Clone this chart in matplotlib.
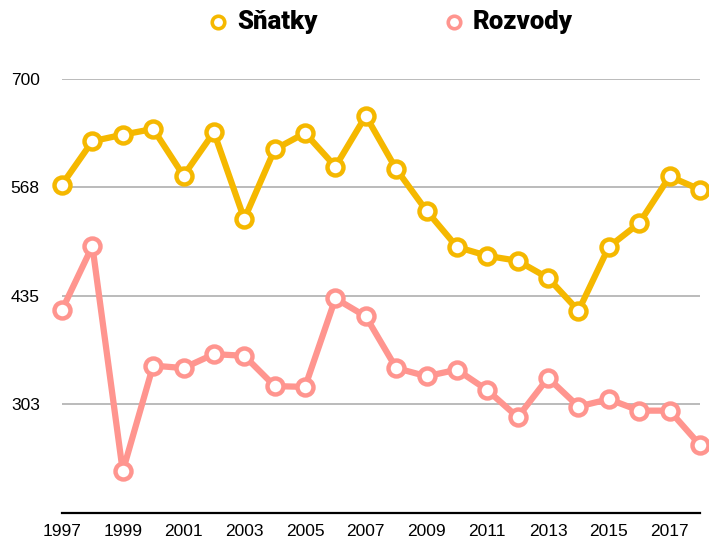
import matplotlib.pyplot as plt
from matplotlib.lines import Line2D

# --- Data ---
years = list(range(1997, 2019))
snatky = [571, 624, 632, 639, 582, 635, 529, 614, 634, 593, 655,
          590, 539, 495, 484, 478, 457, 417, 495, 524, 581, 565]
rozvody = [418, 496, 221, 350, 347, 364, 362, 325, 324, 432, 410,
           347, 337, 345, 320, 287, 335, 300, 309, 295, 295, 253]
series_names = ['Sňatky', 'Rozvody']
colors = ['#F5B800', '#FF958F']
y_ticks = [302.5, 435, 567.5, 700]
y_labels = ['303', '435', '568', '700']
x_ticks = list(range(1997, 2018, 2))

W, H = 709, 542
fig = plt.figure(figsize=(W / 100, H / 100), dpi=100)
ax = fig.add_axes([62 / W, 1 - 513 / H, (700 - 62) / W, (513 - 79) / H])

for vals, col, z in [(rozvody, colors[1], 3), (snatky, colors[0], 4)]:
    ax.plot(years, vals, color=col, linewidth=4.5, marker='o', markersize=11.5,
            markerfacecolor='white', markeredgecolor=col, markeredgewidth=3.2,
            clip_on=False, zorder=z)

ax.set_xlim(1997, 2018)
ax.set_ylim(170, 700)
ax.set_yticks(y_ticks)
ax.set_yticklabels(y_labels)
ax.set_xticks(x_ticks)
ax.set_xticklabels([str(y) for y in x_ticks])
ax.grid(axis='y', color='#BBBBBB', linewidth=1.4)
ax.set_axisbelow(True)

for s in ['left', 'right', 'top']:
    ax.spines[s].set_visible(False)
ax.spines['bottom'].set_linewidth(1.6)
ax.spines['bottom'].set_color('black')
ax.tick_params(axis='both', length=0, labelsize=12.5)
ax.tick_params(axis='y', pad=16)
ax.tick_params(axis='x', pad=8)
for lab in ax.get_xticklabels() + ax.get_yticklabels():
    lab.set_fontfamily('Liberation Sans')

# legend at the top, placed by hand
leg_y = 1 - 22 / H
for name, col, mx in zip(series_names, colors, [218, 454]):
    fig.add_artist(Line2D([mx / W], [leg_y], linestyle='none', marker='o',
                          markersize=9, markerfacecolor='white',
                          markeredgecolor=col, markeredgewidth=2.6,
                          transform=fig.transFigure))
    fig.text((mx + 19) / W, leg_y, name, ha='left', va='center',
             family='Roboto', weight='black', size=18.5)

fig.savefig('out.png', dpi=100)
